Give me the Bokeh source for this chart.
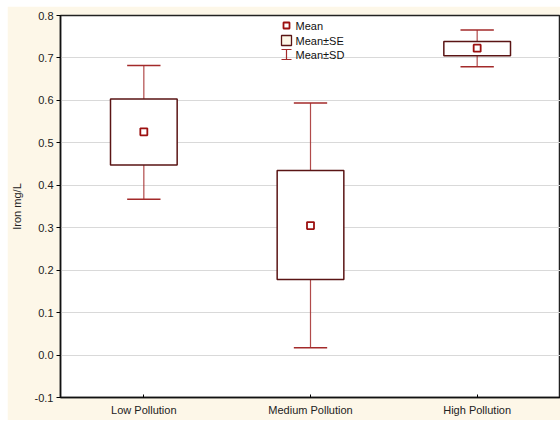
from bokeh.plotting import figure
from bokeh.models import ColumnDataSource, FixedTicker, Label, BoxAnnotation
from bokeh.embed import file_html
from bokeh.resources import INLINE

# ---- data ----
categories = ["Low Pollution", "Medium Pollution", "High Pollution"]
mean_vals = [0.526, 0.305, 0.723]
se_low = [0.448, 0.178, 0.705]
se_high = [0.603, 0.435, 0.739]
sd_low = [0.367, 0.017, 0.679]
sd_high = [0.682, 0.594, 0.766]
y_ticks = [-0.1, 0.0, 0.1, 0.2, 0.3, 0.4, 0.5, 0.6, 0.7, 0.8]

FONT = "Liberation Sans"
BG = "#FDF7E8"
BOX_COL = "#5A1414"
WHISK_COL = "#A32A2A"
MEAN_COL = "#9C1010"

xs = list(range(len(categories)))
box_w = 0.4
cap_w = 0.2

src = ColumnDataSource(dict(
    x=xs,
    left=[x - box_w / 2 for x in xs],
    right=[x + box_w / 2 for x in xs],
    cl=[x - cap_w / 2 for x in xs],
    cr=[x + cap_w / 2 for x in xs],
    mean=mean_vals, se_lo=se_low, se_hi=se_high, sd_lo=sd_low, sd_hi=sd_high,
))

p = figure(width=553, height=414, output_backend="svg", toolbar_location=None,
           x_range=(-0.5, 2.5), y_range=(-0.1, 0.8),
           min_border_left=53, min_border_right=0, min_border_top=9,
           min_border_bottom=23, margin=(6, 0, 0, 7))
p.background_fill_color = "white"
p.border_fill_color = BG
p.outline_line_color = "#222222"
p.outline_line_width = 1.5

# grid
p.xgrid.visible = False
p.ygrid.ticker = FixedTicker(ticks=y_ticks)
p.ygrid.grid_line_color = "#D9D9D9"
p.ygrid.grid_line_width = 1

# axes
xax = p.xaxis[0]
xax.ticker = FixedTicker(ticks=xs)
xax.major_label_overrides = {i: c for i, c in enumerate(categories)}
xax.major_tick_in = 3
xax.major_tick_out = 0
xax.minor_tick_line_color = None
xax.axis_line_color = "#111111"
xax.axis_line_width = 1.5
xax.major_label_text_font = FONT
xax.major_label_text_font_size = "11px"
xax.major_label_text_color = "#222222"
xax.major_label_standoff = 6

yax = p.yaxis[0]
yax.ticker = FixedTicker(ticks=y_ticks)
yax.major_label_overrides = {t: f"{t:.1f}" for t in y_ticks}
yax.major_tick_in = 0
yax.major_tick_out = 4
yax.minor_tick_line_color = None
yax.axis_line_color = "#111111"
yax.axis_line_width = 1.5
yax.major_label_text_font = FONT
yax.major_label_text_font_size = "11px"
yax.major_label_text_color = "#222222"
yax.major_label_standoff = 3
yax.axis_label = "Iron mg/L"
yax.axis_label_text_font = FONT
yax.axis_label_text_font_size = "11px"
yax.axis_label_text_font_style = "normal"
yax.axis_label_text_color = "#222222"
yax.axis_label_standoff = 9

# whiskers (SD)
p.segment(x0="x", x1="x", y0="sd_lo", y1="sd_hi", source=src,
          line_color=WHISK_COL, line_width=1.2, line_alpha=0.85)
p.segment(x0="cl", x1="cr", y0="sd_lo", y1="sd_lo", source=src,
          line_color=WHISK_COL, line_width=1.5)
p.segment(x0="cl", x1="cr", y0="sd_hi", y1="sd_hi", source=src,
          line_color=WHISK_COL, line_width=1.5)
# boxes (SE)
p.quad(left="left", right="right", bottom="se_lo", top="se_hi", source=src,
       fill_color="white", line_color=BOX_COL, line_width=1.5)
# means
p.scatter(x="x", y="mean", source=src, marker="square", size=7,
          fill_color="white", line_color=MEAN_COL, line_width=1.8)

# ---- legend (screen units, relative to frame bottom-left) ----
fx = 226
rows = [372, 357, 343]
labels = ["Mean", "Mean\u00b1SE", "Mean\u00b1SD"]
for r, t in zip(rows, labels):
    p.add_layout(Label(x=fx + 9, y=r, x_units="screen", y_units="screen", text=t,
                       text_font=FONT, text_font_size="11px", text_color="#111111",
                       text_baseline="middle", text_align="left"))
p.add_layout(BoxAnnotation(left=fx - 3, right=fx + 3, bottom=rows[0] - 3, top=rows[0] + 3,
                           left_units="screen", right_units="screen",
                           bottom_units="screen", top_units="screen",
                           fill_color="white", fill_alpha=1, line_color=MEAN_COL,
                           line_width=1.8, line_alpha=1, level="overlay"))
p.add_layout(BoxAnnotation(left=fx - 5, right=fx + 5, bottom=rows[1] - 5, top=rows[1] + 5,
                           left_units="screen", right_units="screen",
                           bottom_units="screen", top_units="screen",
                           fill_color=BG, fill_alpha=1, line_color=BOX_COL,
                           line_width=1.3, line_alpha=1, level="overlay"))
# I-beam for SD
for (l, r_, b, t) in [(fx - 0.6, fx + 0.6, rows[2] - 5.5, rows[2] + 5.5),
                      (fx - 5, fx + 5, rows[2] - 5.5, rows[2] - 4.5),
                      (fx - 5, fx + 5, rows[2] + 4.5, rows[2] + 5.5)]:
    p.add_layout(BoxAnnotation(left=l, right=r_, bottom=b, top=t,
                               left_units="screen", right_units="screen",
                               bottom_units="screen", top_units="screen",
                               fill_color=WHISK_COL, fill_alpha=1, line_color=None,
                               level="overlay"))

open("out.html", "w").write(file_html(p, INLINE))
